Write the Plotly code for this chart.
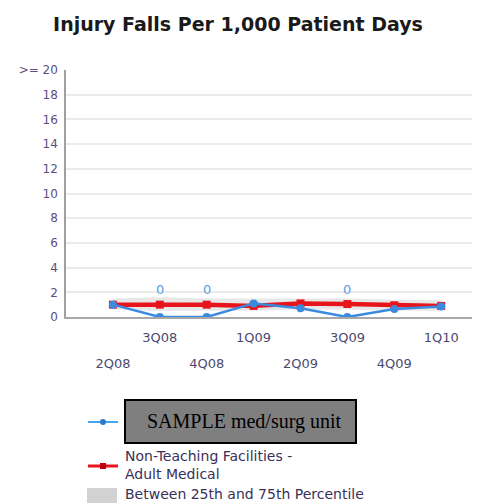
import plotly.graph_objects as go

# ---- data ----
quarters = ["2Q08", "3Q08", "4Q08", "1Q09", "2Q09", "3Q09", "4Q09", "1Q10"]
unit_values = [1.0, 0.0, 0.0, 1.1, 0.7, 0.0, 0.65, 0.85]
peer_values = [1.0, 1.0, 1.0, 0.9, 1.1, 1.05, 0.95, 0.9]
p25_values = [0.6, 0.5, 0.5, 0.5, 0.6, 0.6, 0.5, 0.5]
p75_values = [1.5, 1.6, 1.5, 1.5, 1.5, 1.5, 1.4, 1.4]
y_tick_vals = [0, 2, 4, 6, 8, 10, 12, 14, 16, 18, 20]
y_tick_text = ["0", "2", "4", "6", "8", "10", "12", "14", "16", "18", ">= 20"]
legend_unit = "SAMPLE med/surg unit"
legend_peer = "Non-Teaching Facilities -<br>Adult Medical"
legend_band = "Between 25th and 75th Percentile"
title_text = "Injury Falls Per 1,000 Patient Days"

xpos = list(range(1, len(quarters) + 1))
top_idx = [i for i in range(len(quarters)) if i % 2 == 1]
bot_idx = [i for i in range(len(quarters)) if i % 2 == 0]

# page offset of the figure (default body margin)
OFF = 8
W, H = 480 - OFF, 504 - OFF
PL, PT, PB = 66, 70, 317          # plot area edges in page pixels
L = PL - OFF
T = PT - OFF
PW = W - L
PH = PB - PT
B = H - T - PH

def pxx(x):
    return (x - PL) / PW

def pxy(y):
    return (PB - y) / PH

BLUE = "#3a8be0"
RED = "#e8141c"
LBL = "#4a4a6e"

fig = go.Figure()

# percentile band
fig.add_trace(go.Scatter(x=xpos, y=p25_values, mode="lines", line=dict(width=0),
                         showlegend=False, hoverinfo="skip"))
fig.add_trace(go.Scatter(x=xpos, y=p75_values, mode="lines", line=dict(width=0),
                         fill="tonexty", fillcolor="rgba(215,215,215,0.6)",
                         showlegend=False, hoverinfo="skip"))
# peer line
fig.add_trace(go.Scatter(x=xpos, y=peer_values, mode="lines+markers",
                         line=dict(color=RED, width=4.5),
                         marker=dict(color=RED, size=8, symbol="square"),
                         showlegend=False))
# unit line
fig.add_trace(go.Scatter(x=xpos, y=unit_values, mode="lines+markers",
                         line=dict(color=BLUE, width=2.5),
                         marker=dict(color=BLUE, size=8),
                         showlegend=False))
# invisible trace for second (staggered) tick-label axis
fig.add_trace(go.Scatter(x=xpos, y=unit_values, xaxis="x2", mode="markers",
                         marker=dict(opacity=0), showlegend=False, hoverinfo="skip"))

# zero-value labels
for i, v in enumerate(unit_values):
    if v == 0:
        fig.add_annotation(x=xpos[i], y=v, text="0", showarrow=False, yshift=28,
                           font=dict(color="#5a9ee6", size=13, family="DejaVu Sans"))

# ---- manual legend ----
shapes = []
shapes.append(dict(type="line", xref="paper", yref="paper",
                   x0=pxx(88), x1=pxx(118), y0=pxy(422), y1=pxy(422),
                   line=dict(color="#4aa6ea", width=2)))
shapes.append(dict(type="circle", xref="paper", yref="paper",
                   x0=pxx(100), x1=pxx(106), y0=pxy(425), y1=pxy(419),
                   fillcolor="#2a7ad0", line=dict(width=0)))
shapes.append(dict(type="rect", xref="paper", yref="paper",
                   x0=pxx(125), x1=pxx(356), y0=pxy(443), y1=pxy(400),
                   fillcolor="#7f7f7f", line=dict(color="black", width=2)))
shapes.append(dict(type="line", xref="paper", yref="paper",
                   x0=pxx(88), x1=pxx(118), y0=pxy(466), y1=pxy(466),
                   line=dict(color=RED, width=3)))
shapes.append(dict(type="rect", xref="paper", yref="paper",
                   x0=pxx(100), x1=pxx(106), y0=pxy(469), y1=pxy(463),
                   fillcolor="#c00010", line=dict(width=0)))
shapes.append(dict(type="rect", xref="paper", yref="paper",
                   x0=pxx(87), x1=pxx(117), y0=pxy(503), y1=pxy(488),
                   fillcolor="#d2d2d2", line=dict(width=0)))

fig.add_annotation(xref="paper", yref="paper", x=pxx(145), y=pxy(421),
                   xanchor="left", yanchor="middle", showarrow=False,
                   text=legend_unit,
                   font=dict(family="Liberation Serif", size=20, color="black"))
fig.add_annotation(xref="paper", yref="paper", x=pxx(123), y=pxy(465),
                   xanchor="left", yanchor="middle", showarrow=False, align="left",
                   text=legend_peer,
                   font=dict(family="DejaVu Sans", size=14, color="#3a2f5a"))
fig.add_annotation(xref="paper", yref="paper", x=pxx(123), y=pxy(494),
                   xanchor="left", yanchor="middle", showarrow=False,
                   text=legend_band,
                   font=dict(family="DejaVu Sans", size=14, color="#3a2f5a"))

fig.update_layout(
    width=W, height=H,
    margin=dict(l=L, r=0, t=T, b=B),
    paper_bgcolor="white", plot_bgcolor="white",
    showlegend=False,
    shapes=shapes,
    title=dict(text=title_text, x=pxx(238), xref="paper", xanchor="center",
               y=1 - (24 - OFF) / H, yref="container", yanchor="middle",
               font=dict(family="DejaVu Sans", size=19, color="#1a1a1a", weight="bold")),
    xaxis=dict(range=[0, PW / 46.9], tickmode="array",
               tickvals=[xpos[i] for i in top_idx],
               ticktext=[quarters[i] for i in top_idx],
               showgrid=False, zeroline=False, showline=True, linecolor="#a8a8a8",
               linewidth=1.5, ticks="", ticklabelstandoff=8,
               tickfont=dict(family="DejaVu Sans", size=13, color=LBL)),
    xaxis2=dict(overlaying="x", matches="x", side="bottom", anchor="y",
                tickmode="array",
                tickvals=[xpos[i] for i in bot_idx],
                ticktext=[quarters[i] for i in bot_idx],
                showgrid=False, zeroline=False, showline=False, ticks="",
                ticklabelstandoff=37,
                tickfont=dict(family="DejaVu Sans", size=13, color=LBL)),
    yaxis=dict(range=[0, 20], tickmode="array", tickvals=y_tick_vals,
               ticktext=y_tick_text, showgrid=True, gridcolor="#ebebeb", gridwidth=2,
               zeroline=False, showline=True, linecolor="#a0a0a0", linewidth=1.5,
               ticks="", ticklabelstandoff=4,
               tickfont=dict(family="DejaVu Sans", size=12, color="#5e4e7e")),
)

fig.write_html("out.html")
